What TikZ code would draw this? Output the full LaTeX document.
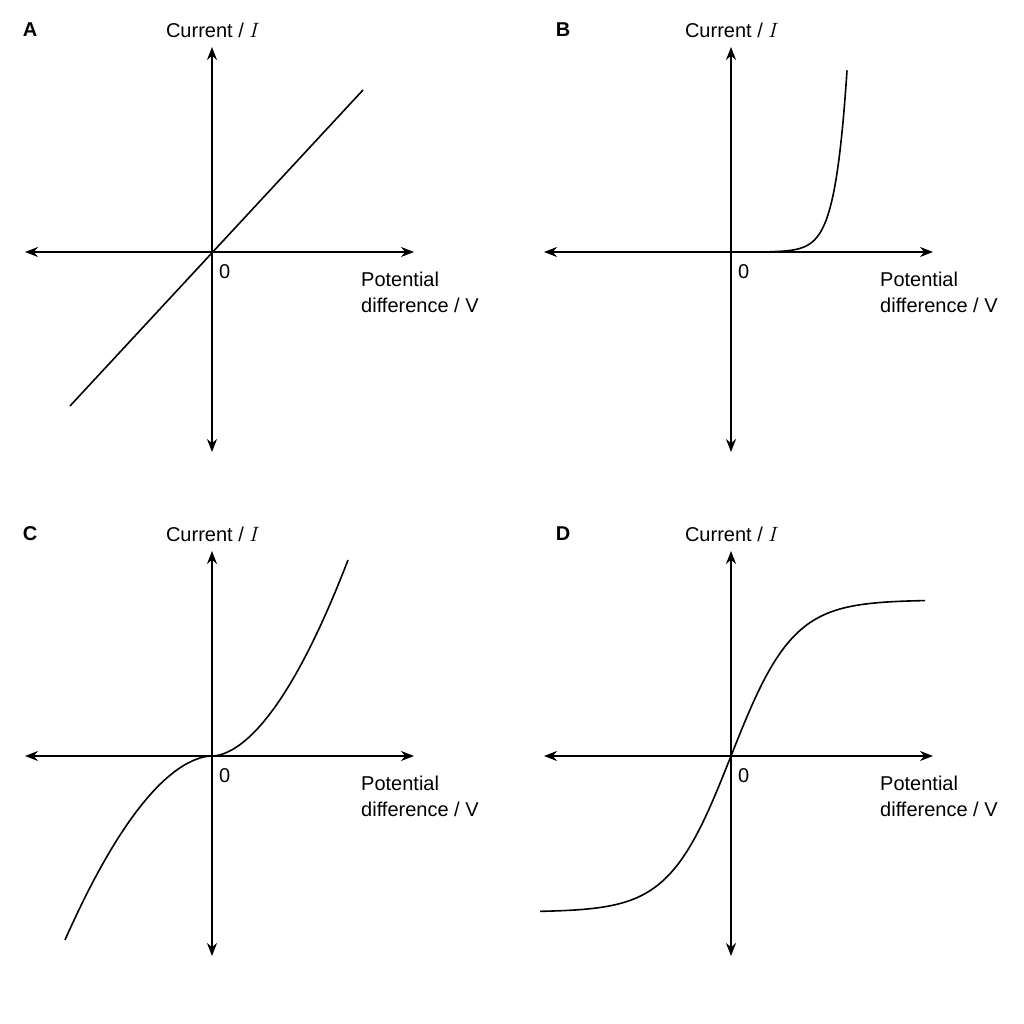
\documentclass[tikz,border=0pt]{standalone}
\usepackage{fontspec}
\setmainfont{Liberation Sans}
\usetikzlibrary{arrows.meta}
\begin{document}
\begin{tikzpicture}[x=1pt,y=1pt,
  ax/.style={line width=1.6pt,{Stealth[length=13pt,width=10pt]}-{Stealth[length=13pt,width=10pt]}},
  crv/.style={line width=1.6pt},
  lbl/.style={font=\fontsize{20}{24}\selectfont,inner sep=0pt},
  ttl/.style={font=\fontsize{20}{24}\selectfont\bfseries,inner sep=0pt}]
\useasboundingbox[fill=white] (0,0) rectangle (1024,1024);
\foreach \ox/\oy/\L/\id/\tx in {212/772/A/a/-182,731/772/B/b/-168,212/268/C/c/-182,731/268/D/d/-168}{
  \begin{scope}[shift={(\ox,\oy)}]
    \coordinate (\id l) at (-187,0); \coordinate (\id r) at (202,0);
    \coordinate (\id t) at (0,205); \coordinate (\id b) at (0,-200);
    \draw[ax] (\id l) -- (\id r);
    \draw[ax] (\id b) -- (\id t);
    \node[lbl] (\id cur) at (1,222) {Current / $I$};
    \node[lbl,anchor=west] (\id z) at (7,-20) {0};
    \node[lbl,anchor=west] (\id pot) at (149,-27) {Potential};
    \node[lbl,anchor=west] (\id dif) at (149,-53) {difference / V};
    \node[ttl] (\id ttl) at (\tx,222) {\L};
  \end{scope}}
\begin{scope}[shift={(212,772)}]
  \draw[crv] (-142,-154) -- (151,162);
\end{scope}
\begin{scope}[shift={(731,772)}]
  \draw[crv] (0,0) -- (40,0) -- plot[domain=40:116,samples=120] (\x,{0.0115*(exp(\x/12)-1)});
\end{scope}
\begin{scope}[shift={(212,268)}]
  \draw[crv] plot[domain=147:0,samples=80] (-\x,{-0.0231*pow(\x,1.8)})
     -- plot[domain=0:136,samples=80] (\x,{0.0283*pow(\x,1.8)});
\end{scope}
\begin{scope}[shift={(731,268)}]
  \draw[crv] plot[domain=-191:194,samples=150] (\x,{156*tanh(\x/62)});
\end{scope}
\end{tikzpicture}
\end{document}
